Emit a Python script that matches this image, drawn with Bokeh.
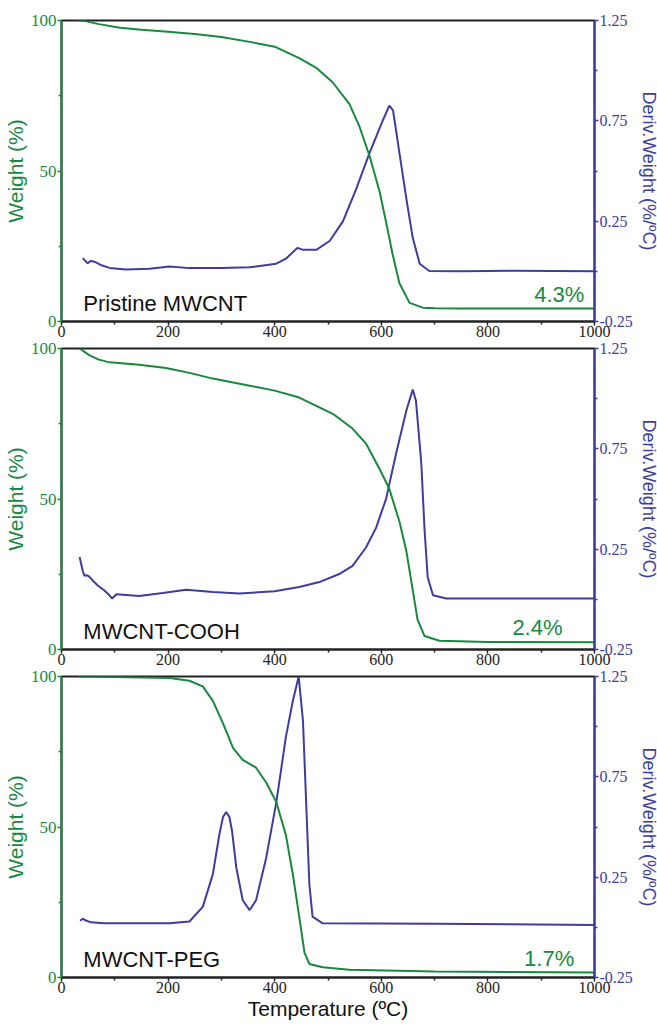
from bokeh.plotting import figure
from bokeh.models import Range1d, LinearAxis, FixedTicker, Label, NumeralTickFormatter
from bokeh.layouts import column
from bokeh.embed import file_html
from bokeh.resources import INLINE

# ---------------- data ----------------
# Panel 1: Pristine MWCNT
t1_w = [30, 45, 70, 110, 150, 200, 250, 300, 353, 400, 446, 478, 509, 540, 559, 578, 597, 609, 621, 634, 653, 678, 700, 750, 1000]
w1 = [100, 99.8, 98.8, 97.6, 96.9, 96.3, 95.5, 94.5, 92.9, 91.3, 87.5, 84.3, 79.4, 72.3, 64.8, 55.0, 43.0, 33.0, 22.5, 12.7, 6.2, 4.6, 4.4, 4.3, 4.3]
t1_d = [40, 49, 55, 62, 75, 90, 121, 165, 203, 240, 300, 353, 403, 421, 443, 453, 478, 503, 528, 553, 578, 603, 615, 622, 634, 647, 659, 672, 690, 750, 850, 1000]
d1 = [0.066, 0.040, 0.052, 0.048, 0.030, 0.017, 0.009, 0.013, 0.024, 0.016, 0.017, 0.020, 0.038, 0.063, 0.117, 0.107, 0.107, 0.151, 0.249, 0.411, 0.590, 0.753, 0.826, 0.802, 0.590, 0.362, 0.167, 0.038, 0.002, 0.0, 0.003, 0.0]

# Panel 2: MWCNT-COOH
t2_w = [34, 52, 70, 90, 146, 196, 240, 284, 334, 400, 446, 509, 546, 571, 597, 615, 634, 647, 659, 668, 681, 709, 800, 1000]
w2 = [100, 97.8, 96.3, 95.4, 94.6, 93.5, 91.9, 90.0, 88.3, 86.0, 83.7, 78.3, 73.4, 68.5, 59.9, 53.4, 42.5, 32.7, 19.7, 9.9, 4.5, 2.9, 2.5, 2.4]
t2_d = [34, 40, 43, 48, 52, 60, 68, 80, 90, 95, 103, 146, 190, 234, 284, 334, 400, 446, 484, 521, 546, 571, 590, 609, 628, 647, 659, 665, 675, 681, 687, 697, 722, 1000]
d2 = [0.211, 0.140, 0.118, 0.120, 0.113, 0.090, 0.069, 0.045, 0.020, 0.004, 0.025, 0.017, 0.032, 0.048, 0.037, 0.029, 0.040, 0.061, 0.086, 0.126, 0.167, 0.257, 0.355, 0.501, 0.729, 0.941, 1.046, 0.990, 0.680, 0.355, 0.110, 0.020, 0.004, 0.004]

# Panel 3: MWCNT-PEG
t3_w = [30, 100, 203, 240, 265, 284, 303, 322, 340, 365, 384, 403, 421, 434, 446, 456, 465, 490, 540, 700, 1000]
w3 = [100, 99.8, 99.5, 98.6, 96.7, 91.9, 84.4, 76.2, 72.3, 69.7, 64.8, 58.3, 47.3, 34.3, 20.2, 8.2, 4.5, 3.4, 2.6, 2.0, 1.7]
t3_d = [35, 40, 45, 55, 80, 120, 160, 203, 240, 265, 284, 296, 303, 309, 315, 320, 328, 340, 353, 365, 384, 403, 421, 434, 445, 453, 459, 465, 471, 490, 700, 1000]
d3 = [0.033, 0.043, 0.035, 0.025, 0.020, 0.020, 0.020, 0.020, 0.029, 0.102, 0.265, 0.460, 0.550, 0.574, 0.550, 0.480, 0.297, 0.135, 0.086, 0.135, 0.346, 0.623, 0.949, 1.128, 1.250, 1.030, 0.625, 0.216, 0.053, 0.020, 0.018, 0.012]

names = ["Pristine MWCNT", "MWCNT-COOH", "MWCNT-PEG"]
residues = ["4.3%", "2.4%", "1.7%"]
residue_level = [4.3, 2.4, 1.7]
residue_x = [981, 940, 962]

x_ticks = [0, 200, 400, 600, 800, 1000]
x_minor = [100, 300, 500, 700, 900]
w_ticks = [0, 50, 100]
w_minor = [25, 75]
d_ticks = [-0.25, 0.25, 0.75, 1.25]
d_minor = [0.0, 0.5, 1.0]

GREEN = "#17893f"
BLUE = "#3d3da0"
FONT = "Liberation Sans"
TICKFONT = "Liberation Sans Narrow"


def style_ticks(ax, color, size):
    ax.major_tick_line_color = color
    ax.minor_tick_line_color = color
    ax.major_tick_in = 0
    ax.major_tick_out = 4
    ax.minor_tick_in = 0
    ax.minor_tick_out = 3
    ax.major_tick_line_width = 1.5
    ax.minor_tick_line_width = 1.5
    ax.major_label_text_font = TICKFONT
    ax.major_label_text_font_size = size
    ax.major_label_text_color = color


def make_panel(tw, w, td, d, name, res, rx, rlev, top_border, last):
    p = figure(frame_width=533, frame_height=301, output_backend="svg", toolbar_location=None,
               x_range=Range1d(0, 1000), y_range=Range1d(0, 100),
               min_border_left=54, min_border_right=56, min_border_top=top_border,
               min_border_bottom=0)
    p.extra_y_ranges = {"d": Range1d(-0.25, 1.25)}
    p.xgrid.visible = False
    p.ygrid.visible = False
    p.outline_line_color = "#222222"
    p.outline_line_width = 2

    # x axis
    xa = p.xaxis[0]
    xa.ticker = FixedTicker(ticks=x_ticks, minor_ticks=x_minor)
    xa.axis_line_color = "#222222"
    xa.axis_line_width = 2
    style_ticks(xa, "#222222", "16px")
    xa.major_label_standoff = 0
    if last:
        xa.axis_label = "Temperature (ºC)"
        xa.axis_label_text_font = FONT
        xa.axis_label_text_font_size = "21px"
        xa.axis_label_text_font_style = "normal"
        xa.axis_label_text_color = "#111111"
        xa.axis_label_standoff = 1

    # left axis
    ya = p.yaxis[0]
    ya.ticker = FixedTicker(ticks=w_ticks, minor_ticks=w_minor)
    ya.axis_line_color = GREEN
    ya.axis_line_width = 2
    style_ticks(ya, GREEN, "17px")
    ya.major_label_standoff = 1
    ya.axis_label = "Weight (%)"
    ya.axis_label_text_font = FONT
    ya.axis_label_text_font_size = "21px"
    ya.axis_label_text_font_style = "normal"
    ya.axis_label_text_color = GREEN
    ya.axis_label_standoff = 1

    # right axis
    ra = LinearAxis(y_range_name="d", ticker=FixedTicker(ticks=d_ticks, minor_ticks=d_minor),
                    formatter=NumeralTickFormatter(format="0.00"))
    ra.axis_line_color = BLUE
    ra.axis_line_width = 2
    style_ticks(ra, BLUE, "16px")
    ra.major_label_standoff = 1
    ra.axis_label = "Deriv.Weight (%/ºC)"
    ra.axis_label_text_font = FONT
    ra.axis_label_text_font_size = "18px"
    ra.axis_label_text_font_style = "normal"
    ra.axis_label_text_color = BLUE
    ra.axis_label_standoff = 3
    p.add_layout(ra, "right")

    p.line(td, d, y_range_name="d", line_color=BLUE, line_width=2)
    p.line(tw, w, line_color=GREEN, line_width=2)

    p.add_layout(Label(x=41, y=1.8, text=name, text_font=FONT, text_font_size="22px",
                       text_color="#111111", text_baseline="bottom"))
    p.add_layout(Label(x=rx, y=rlev + 0.6, text=res, text_font=FONT, text_font_size="22px",
                       text_color=GREEN, text_align="right", text_baseline="bottom"))
    return p


p1 = make_panel(t1_w, w1, t1_d, d1, names[0], residues[0], residue_x[0], residue_level[0], 20, False)
p2 = make_panel(t2_w, w2, t2_d, d2, names[1], residues[1], residue_x[1], residue_level[1], 9, False)
p3 = make_panel(t3_w, w3, t3_d, d3, names[2], residues[2], residue_x[2], residue_level[2], 9, True)

layout = column(p1, p2, p3, spacing=0)
open("out.html", "w").write(file_html(layout, INLINE))
